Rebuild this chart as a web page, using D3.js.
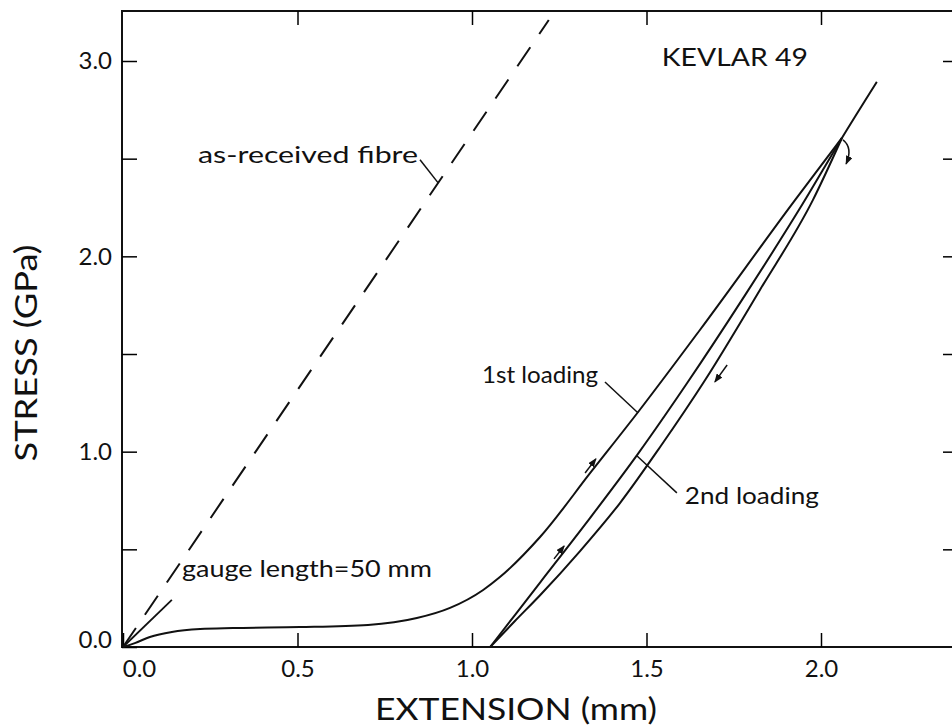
<!DOCTYPE html>
<html>
<head>
<meta charset="utf-8">
<script src="https://cdn.jsdelivr.net/npm/d3@7"></script>
<style>
body { margin: 0; background: #fff; }
text { font-family: Lato, "Noto Sans", "DejaVu Sans", sans-serif; fill: #111; }
</style>
</head>
<body>
<div id="chart"></div>
<script>
// values: extension (mm) vs stress (GPa)
const fibreX = [0, 1.22]
const fibreY = [0, 3.21]

const firstX = [0, 0.034, 0.077, 0.140, 0.221, 0.315, 0.507, 0.702, 0.842, 0.937, 1.032, 1.080, 1.195, 1.341, 1.476, 1.653, 1.926, 2.060]
const firstY = [0, 0.020, 0.051, 0.077, 0.092, 0.097, 0.102, 0.113, 0.148, 0.200, 0.292, 0.358, 0.563, 0.896, 1.203, 1.623, 2.289, 2.606]

const unloadX = [1.052, 1.123, 1.195, 1.309, 1.424, 1.539, 1.668, 1.825, 1.977, 2.060]
const unloadY = [0, 0.133, 0.265, 0.490, 0.737, 1.024, 1.367, 1.828, 2.289, 2.606]

const secondX = [1.052, 1.195, 1.338, 1.476, 1.616, 1.782, 1.948, 2.060, 2.160]
const secondY = [0, 0.330, 0.660, 0.990, 1.350, 1.800, 2.270, 2.606, 2.893]

const xTicks = [0, 0.5, 1.0, 1.5, 2.0]
const xTickLabels = ['0.0', '0.5', '1.0', '1.5', '2.0']
const yTicks = [0, 0.5, 1.0, 1.5, 2.0, 2.5, 3.0]
const yTickLabels = ['0.0', '', '1.0', '', '2.0', '', '3.0']

const W = 952, H = 726
const margin = {top: 11, left: 122, bottom: 79}
const plotW = 836, plotH = H - margin.top - margin.bottom

const svg = d3.select('#chart').append('svg')
    .attr('width', W)
    .attr('height', H)

// arrow head
svg.append('defs').append('marker')
    .attr('id', 'head')
    .attr('markerUnits', 'userSpaceOnUse')
    .attr('markerWidth', 9).attr('markerHeight', 7)
    .attr('refX', 8).attr('refY', 3.5)
    .attr('orient', 'auto')
  .append('path')
    .attr('d', 'M0,0 L9,3.5 L0,7 Z')
    .attr('fill', '#111')

const g = svg.append('g')
    .attr('transform', `translate(${margin.left},${margin.top})`)

const x = d3.scaleLinear().domain([0, 2]).range([1, 699])
const y = d3.scaleLinear().domain([0, 3]).range([plotH, 50])

// frame
g.append('rect')
    .attr('x', 0).attr('y', 0)
    .attr('width', plotW).attr('height', plotH)
    .attr('fill', 'none')
    .attr('stroke', '#111')
    .attr('stroke-width', 2)

// axes, ticks pointing in
const xAxis = g.append('g')
    .attr('transform', `translate(0,${plotH})`)
    .call(d3.axisBottom(x).tickValues(xTicks).tickSize(-14).tickPadding(13)
        .tickFormat((d, i) => xTickLabels[i]))
xAxis.select('.domain').remove()
xAxis.selectAll('text').attr('font-size', 24).attr('font-family', null)
    .attr('dx', (d, i) => i == 0 ? 16 : 0)
xAxis.selectAll('line').attr('stroke-width', 1.5)

const yAxis = g.append('g')
    .call(d3.axisLeft(y).tickValues(yTicks).tickSize(-15).tickPadding(10)
        .tickFormat((d, i) => yTickLabels[i]))
yAxis.select('.domain').remove()
yAxis.selectAll('text').attr('font-size', 24).attr('font-family', null)
    .attr('dy', (d, i) => i == 0 ? '0.0em' : '0.32em')
yAxis.selectAll('line').attr('stroke-width', 1.5)

const topAxis = g.append('g')
    .call(d3.axisTop(x).tickValues(xTicks.slice(1)).tickSize(-14).tickFormat(''))
topAxis.select('.domain').remove()
topAxis.selectAll('line').attr('stroke-width', 1.5)

const rightAxis = g.append('g')
    .attr('transform', `translate(${plotW},0)`)
    .call(d3.axisRight(y).tickValues(yTicks.slice(1)).tickSize(-15).tickFormat(''))
rightAxis.select('.domain').remove()
rightAxis.selectAll('line').attr('stroke-width', 1.5)

// curves
const line = d3.line()
    .x(d => x(d[0]))
    .y(d => y(d[1]))
    .curve(d3.curveMonotoneX)

function draw(xs, ys, dash) {
    g.append('path')
        .datum(xs.map((v, i) => [v, ys[i]]))
        .attr('d', line)
        .attr('fill', 'none')
        .attr('stroke', '#111')
        .attr('stroke-width', 2)
        .attr('stroke-dasharray', dash)
}
draw(fibreX, fibreY, '23,16')
draw(firstX, firstY, null)
draw(unloadX, unloadY, null)
draw(secondX, secondY, null)

// leader lines
function seg(x1, y1, x2, y2, w) {
    return g.append('line')
        .attr('x1', x(x1)).attr('y1', y(y1))
        .attr('x2', x(x2)).attr('y2', y(y2))
        .attr('stroke', '#111')
        .attr('stroke-width', w)
}
seg(0, 0, 0.140, 0.241, 1.8)
seg(0.851, 2.494, 0.903, 2.376, 1.5)
seg(1.381, 1.357, 1.476, 1.198, 1.5)
seg(1.587, 0.789, 1.473, 0.978, 1.5)

// direction arrows
seg(1.324, 0.891, 1.355, 0.963, 1.5).attr('marker-end', 'url(#head)')
seg(1.235, 0.451, 1.264, 0.517, 1.5).attr('marker-end', 'url(#head)')
seg(1.731, 1.444, 1.696, 1.357, 1.5).attr('marker-end', 'url(#head)')
g.append('path')
    .attr('d', `M${x(2.063)},${y(2.596)} Q${x(2.092)},${y(2.555)} ${x(2.072)},${y(2.473)}`)
    .attr('fill', 'none')
    .attr('stroke', '#111')
    .attr('stroke-width', 1.5)
    .attr('marker-end', 'url(#head)')

// labels (the original lettering is a wide geometric face, so stretch to its width)
function label(txt, x0, y0, size, len, anchor) {
    g.append('text')
        .attr('x', x(x0)).attr('y', y(y0))
        .attr('font-size', size)
        .attr('text-anchor', anchor || 'start')
        .attr('textLength', len)
        .attr('lengthAdjust', 'spacingAndGlyphs')
        .text(txt)
}
label('KEVLAR 49', 1.544, 2.975, 25, 146)
label('as-received fibre', 0.215, 2.478, 24, 220)
label('gauge length=50 mm', 0.169, 0.358, 24, 250)
label('1st loading', 1.361, 1.352, 24, 116, 'end')
label('2nd loading', 1.610, 0.732, 24, 134)

// axis titles
svg.append('text')
    .attr('x', 516).attr('y', 720)
    .attr('text-anchor', 'middle')
    .attr('font-size', 30)
    .attr('textLength', 282)
    .attr('lengthAdjust', 'spacingAndGlyphs')
    .text('EXTENSION (mm)')

svg.append('text')
    .attr('transform', 'translate(37,353) rotate(-90)')
    .attr('text-anchor', 'middle')
    .attr('font-size', 30)
    .attr('textLength', 217)
    .attr('lengthAdjust', 'spacingAndGlyphs')
    .text('STRESS (GPa)')
</script>
</body>
</html>
